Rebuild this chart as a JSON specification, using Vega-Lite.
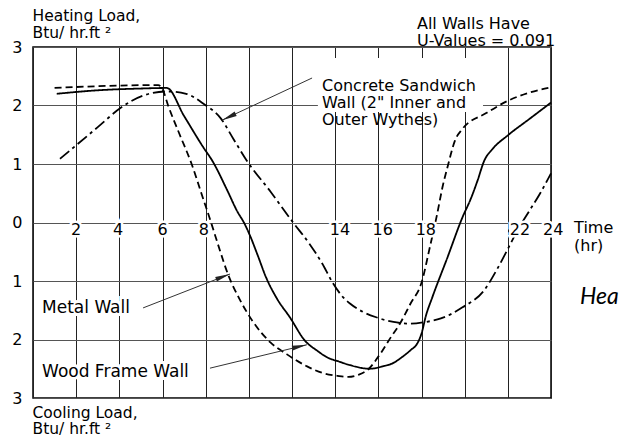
{
  "$schema": "https://vega.github.io/schema/vega-lite/v6.json",
  "width": 518,
  "height": 351,
  "autosize": {"type": "none"},
  "padding": {"left": 33, "top": 47, "right": 68, "bottom": 41},
  "background": "white",
  "config": {"view": {"stroke": "black", "strokeWidth": 1.5}, "font": "DejaVu Sans"},
  "data": {"values": [{}]},
  "datasets": {
    "curves": [
      {"wall": "Metal Wall", "hour": 1.0, "load": 2.30},
      {"wall": "Metal Wall", "hour": 3.0, "load": 2.33},
      {"wall": "Metal Wall", "hour": 5.8, "load": 2.35},
      {"wall": "Metal Wall", "hour": 6.0, "load": 2.28},
      {"wall": "Metal Wall", "hour": 6.26, "load": 2.0},
      {"wall": "Metal Wall", "hour": 6.8, "load": 1.5},
      {"wall": "Metal Wall", "hour": 7.35, "load": 1.0},
      {"wall": "Metal Wall", "hour": 7.8, "load": 0.5},
      {"wall": "Metal Wall", "hour": 8.25, "load": 0.0},
      {"wall": "Metal Wall", "hour": 8.55, "load": -0.35},
      {"wall": "Metal Wall", "hour": 9.05, "load": -0.9},
      {"wall": "Metal Wall", "hour": 9.6, "load": -1.33},
      {"wall": "Metal Wall", "hour": 10.2, "load": -1.7},
      {"wall": "Metal Wall", "hour": 11.0, "load": -2.05},
      {"wall": "Metal Wall", "hour": 11.75, "load": -2.25},
      {"wall": "Metal Wall", "hour": 12.7, "load": -2.46},
      {"wall": "Metal Wall", "hour": 13.4, "load": -2.57},
      {"wall": "Metal Wall", "hour": 14.1, "load": -2.62},
      {"wall": "Metal Wall", "hour": 14.6, "load": -2.64},
      {"wall": "Metal Wall", "hour": 15.1, "load": -2.6},
      {"wall": "Metal Wall", "hour": 15.5, "load": -2.52},
      {"wall": "Metal Wall", "hour": 16.1, "load": -2.24},
      {"wall": "Metal Wall", "hour": 16.6, "load": -1.95},
      {"wall": "Metal Wall", "hour": 17.0, "load": -1.73},
      {"wall": "Metal Wall", "hour": 17.5, "load": -1.38},
      {"wall": "Metal Wall", "hour": 18.0, "load": -1.03},
      {"wall": "Metal Wall", "hour": 18.4, "load": -0.4},
      {"wall": "Metal Wall", "hour": 18.7, "load": 0.1},
      {"wall": "Metal Wall", "hour": 19.0, "load": 0.65},
      {"wall": "Metal Wall", "hour": 19.2, "load": 0.94},
      {"wall": "Metal Wall", "hour": 19.55, "load": 1.4},
      {"wall": "Metal Wall", "hour": 19.9, "load": 1.6},
      {"wall": "Metal Wall", "hour": 21.0, "load": 1.87},
      {"wall": "Metal Wall", "hour": 22.0, "load": 2.08},
      {"wall": "Metal Wall", "hour": 23.0, "load": 2.22},
      {"wall": "Metal Wall", "hour": 24.0, "load": 2.31},
      {"wall": "Wood Frame Wall", "hour": 1.1, "load": 2.2},
      {"wall": "Wood Frame Wall", "hour": 3.0, "load": 2.26},
      {"wall": "Wood Frame Wall", "hour": 5.0, "load": 2.29},
      {"wall": "Wood Frame Wall", "hour": 6.2, "load": 2.3},
      {"wall": "Wood Frame Wall", "hour": 7.0, "load": 1.82},
      {"wall": "Wood Frame Wall", "hour": 7.9, "load": 1.28},
      {"wall": "Wood Frame Wall", "hour": 8.3, "load": 1.06},
      {"wall": "Wood Frame Wall", "hour": 9.0, "load": 0.55},
      {"wall": "Wood Frame Wall", "hour": 9.45, "load": 0.2},
      {"wall": "Wood Frame Wall", "hour": 9.8, "load": -0.02},
      {"wall": "Wood Frame Wall", "hour": 10.05, "load": -0.22},
      {"wall": "Wood Frame Wall", "hour": 10.4, "load": -0.55},
      {"wall": "Wood Frame Wall", "hour": 10.8, "load": -0.94},
      {"wall": "Wood Frame Wall", "hour": 11.3, "load": -1.3},
      {"wall": "Wood Frame Wall", "hour": 11.9, "load": -1.62},
      {"wall": "Wood Frame Wall", "hour": 12.6, "load": -2.02},
      {"wall": "Wood Frame Wall", "hour": 13.2, "load": -2.2},
      {"wall": "Wood Frame Wall", "hour": 13.6, "load": -2.3},
      {"wall": "Wood Frame Wall", "hour": 14.2, "load": -2.38},
      {"wall": "Wood Frame Wall", "hour": 14.7, "load": -2.44},
      {"wall": "Wood Frame Wall", "hour": 15.6, "load": -2.5},
      {"wall": "Wood Frame Wall", "hour": 16.2, "load": -2.46},
      {"wall": "Wood Frame Wall", "hour": 16.7, "load": -2.4},
      {"wall": "Wood Frame Wall", "hour": 17.1, "load": -2.3},
      {"wall": "Wood Frame Wall", "hour": 17.5, "load": -2.18},
      {"wall": "Wood Frame Wall", "hour": 17.8, "load": -2.07},
      {"wall": "Wood Frame Wall", "hour": 18.0, "load": -1.9},
      {"wall": "Wood Frame Wall", "hour": 18.2, "load": -1.6},
      {"wall": "Wood Frame Wall", "hour": 18.5, "load": -1.28},
      {"wall": "Wood Frame Wall", "hour": 19.2, "load": -0.6},
      {"wall": "Wood Frame Wall", "hour": 19.9, "load": 0.09},
      {"wall": "Wood Frame Wall", "hour": 20.3, "load": 0.42},
      {"wall": "Wood Frame Wall", "hour": 20.6, "load": 0.72},
      {"wall": "Wood Frame Wall", "hour": 20.9, "load": 1.05},
      {"wall": "Wood Frame Wall", "hour": 21.3, "load": 1.26},
      {"wall": "Wood Frame Wall", "hour": 22.0, "load": 1.49},
      {"wall": "Wood Frame Wall", "hour": 23.0, "load": 1.77},
      {"wall": "Wood Frame Wall", "hour": 24.0, "load": 2.05},
      {"wall": "Concrete Sandwich Wall", "hour": 1.25, "load": 1.09},
      {"wall": "Concrete Sandwich Wall", "hour": 2.0, "load": 1.32},
      {"wall": "Concrete Sandwich Wall", "hour": 3.0, "load": 1.63},
      {"wall": "Concrete Sandwich Wall", "hour": 4.1, "load": 1.97},
      {"wall": "Concrete Sandwich Wall", "hour": 5.1, "load": 2.17},
      {"wall": "Concrete Sandwich Wall", "hour": 6.2, "load": 2.24},
      {"wall": "Concrete Sandwich Wall", "hour": 7.1, "load": 2.2},
      {"wall": "Concrete Sandwich Wall", "hour": 7.9, "load": 2.03},
      {"wall": "Concrete Sandwich Wall", "hour": 8.7, "load": 1.78},
      {"wall": "Concrete Sandwich Wall", "hour": 9.3, "load": 1.42},
      {"wall": "Concrete Sandwich Wall", "hour": 9.9, "load": 1.06},
      {"wall": "Concrete Sandwich Wall", "hour": 11.0, "load": 0.53},
      {"wall": "Concrete Sandwich Wall", "hour": 12.05, "load": 0.0},
      {"wall": "Concrete Sandwich Wall", "hour": 12.8, "load": -0.36},
      {"wall": "Concrete Sandwich Wall", "hour": 13.4, "load": -0.7},
      {"wall": "Concrete Sandwich Wall", "hour": 13.9, "load": -1.04},
      {"wall": "Concrete Sandwich Wall", "hour": 14.3, "load": -1.25},
      {"wall": "Concrete Sandwich Wall", "hour": 14.7, "load": -1.39},
      {"wall": "Concrete Sandwich Wall", "hour": 15.3, "load": -1.53},
      {"wall": "Concrete Sandwich Wall", "hour": 15.9, "load": -1.62},
      {"wall": "Concrete Sandwich Wall", "hour": 16.7, "load": -1.7},
      {"wall": "Concrete Sandwich Wall", "hour": 17.5, "load": -1.73},
      {"wall": "Concrete Sandwich Wall", "hour": 18.2, "load": -1.7},
      {"wall": "Concrete Sandwich Wall", "hour": 18.9, "load": -1.64},
      {"wall": "Concrete Sandwich Wall", "hour": 19.9, "load": -1.45},
      {"wall": "Concrete Sandwich Wall", "hour": 20.9, "load": -1.16},
      {"wall": "Concrete Sandwich Wall", "hour": 21.5, "load": -0.8},
      {"wall": "Concrete Sandwich Wall", "hour": 21.96, "load": -0.48},
      {"wall": "Concrete Sandwich Wall", "hour": 22.5, "load": -0.1},
      {"wall": "Concrete Sandwich Wall", "hour": 23.0, "load": 0.2},
      {"wall": "Concrete Sandwich Wall", "hour": 23.5, "load": 0.5},
      {"wall": "Concrete Sandwich Wall", "hour": 24.0, "load": 0.84}
    ],
    "ticks": [
      {"at": 2.0, "label": "2"},
      {"at": 3.94, "label": "4"},
      {"at": 6.0, "label": "6"},
      {"at": 7.92, "label": "8"},
      {"at": 14.22, "label": "14"},
      {"at": 16.2, "label": "16"},
      {"at": 18.2, "label": "18"},
      {"at": 22.56, "label": "22"},
      {"at": 24.1, "label": "24"}
    ]
  },
  "layer": [
    {
      "mark": {"type": "rect", "fill": "white", "stroke": null},
      "encoding": {
        "x": {
          "datum": 13.2, "type": "quantitative",
          "scale": {"domain": [0, 24], "nice": false, "zero": false},
          "axis": {
            "values": [0, 2, 4, 6, 8, 10, 12, 14, 16, 18, 20, 22, 24],
            "grid": true, "gridColor": "#222", "gridWidth": 1,
            "labels": false, "ticks": false, "domain": false,
            "title": ["Cooling Load,", "Btu/ hr.ft ²"],
            "titleFont": "DejaVu Sans", "titleFontSize": 15.5, "titleFontWeight": "normal",
            "titleColor": "black", "titleAlign": "left", "titleAnchor": "start",
            "titleBaseline": "top", "titleX": -1, "titleY": 7, "titleLineHeight": 16.5
          }
        },
        "x2": {"datum": 20.85},
        "y": {
          "datum": 2.81, "type": "quantitative",
          "scale": {"domain": [-3, 3], "nice": false, "zero": false},
          "axis": {
            "values": [-3, -2, -1, 0, 1, 2, 3],
            "grid": true, "gridColor": "#555", "gridWidth": 1,
            "labelExpr": "'' + abs(datum.value)",
            "labelFont": "DejaVu Sans", "labelFontSize": 16, "labelColor": "black",
            "labelPadding": 11, "ticks": false, "tickSize": 0, "domain": false,
            "labelFlush": false, "labelBaseline": "middle",
            "title": ["Heating Load,", "Btu/ hr.ft ²"],
            "titleFont": "DejaVu Sans", "titleFontSize": 15.5, "titleFontWeight": "normal",
            "titleColor": "black", "titleAngle": 0, "titleAlign": "left",
            "titleBaseline": "top", "titleX": -1, "titleY": -39, "titleLineHeight": 17
          }
        },
        "y2": {"datum": 1.89}
      }
    },
    {
      "data": {"name": "curves"},
      "mark": {"type": "line", "strokeWidth": 1.8, "color": "black", "interpolate": "monotone"},
      "encoding": {
        "x": {"field": "hour", "type": "quantitative"},
        "y": {"field": "load", "type": "quantitative"},
        "detail": {"field": "wall", "type": "nominal"},
        "strokeDash": {
          "field": "wall", "type": "nominal",
          "scale": {"domain": ["Metal Wall", "Wood Frame Wall", "Concrete Sandwich Wall"], "range": [[7, 4], [1, 0], [12, 4, 3, 4]]},
          "legend": null
        }
      }
    },
    {
      "mark": {"type": "rule", "color": "#333", "strokeWidth": 1},
      "encoding": {
        "x": {"datum": 12.93, "type": "quantitative"}, "x2": {"datum": 8.76},
        "y": {"datum": 2.47, "type": "quantitative"}, "y2": {"datum": 1.75}
      }
    },
    {
      "mark": {"type": "rule", "color": "#333", "strokeWidth": 1},
      "encoding": {
        "x": {"datum": 5.1, "type": "quantitative"}, "x2": {"datum": 9.13},
        "y": {"datum": -1.46, "type": "quantitative"}, "y2": {"datum": -0.88}
      }
    },
    {
      "mark": {"type": "rule", "color": "#333", "strokeWidth": 1},
      "encoding": {
        "x": {"datum": 8.2, "type": "quantitative"}, "x2": {"datum": 12.69},
        "y": {"datum": -2.49, "type": "quantitative"}, "y2": {"datum": -2.09}
      }
    },
    {
      "mark": {"type": "point", "shape": "M0,0L-2,-0.32L-2,0.32Z", "size": 225, "angle": 155, "filled": true, "color": "#222", "opacity": 1, "strokeWidth": 0},
      "encoding": {
        "x": {"datum": 8.76, "type": "quantitative"},
        "y": {"datum": 1.75, "type": "quantitative"}
      }
    },
    {
      "mark": {"type": "point", "shape": "M0,0L-2,-0.32L-2,0.32Z", "size": 225, "angle": -21, "filled": true, "color": "#222", "opacity": 1, "strokeWidth": 0},
      "encoding": {
        "x": {"datum": 9.13, "type": "quantitative"},
        "y": {"datum": -0.88, "type": "quantitative"}
      }
    },
    {
      "mark": {"type": "point", "shape": "M0,0L-2,-0.32L-2,0.32Z", "size": 225, "angle": -13, "filled": true, "color": "#222", "opacity": 1, "strokeWidth": 0},
      "encoding": {
        "x": {"datum": 12.69, "type": "quantitative"},
        "y": {"datum": -2.09, "type": "quantitative"}
      }
    },
    {
      "data": {"name": "ticks"},
      "mark": {"type": "text", "fontSize": 16, "font": "DejaVu Sans", "align": "center", "baseline": "middle", "fill": "white", "stroke": "white", "strokeWidth": 5},
      "encoding": {
        "x": {"field": "at", "type": "quantitative"},
        "y": {"datum": -0.13, "type": "quantitative"},
        "text": {"field": "label"}
      }
    },
    {
      "data": {"name": "ticks"},
      "mark": {"type": "text", "fontSize": 16, "font": "DejaVu Sans", "align": "center", "baseline": "middle", "color": "black"},
      "encoding": {
        "x": {"field": "at", "type": "quantitative"},
        "y": {"datum": -0.13, "type": "quantitative"},
        "text": {"field": "label"}
      }
    },
    {
      "mark": {"type": "text", "text": "Metal Wall", "fontSize": 17, "font": "DejaVu Sans", "align": "left", "baseline": "middle", "fill": "white", "stroke": "white", "strokeWidth": 6},
      "encoding": {
        "x": {"datum": 0.42, "type": "quantitative"},
        "y": {"datum": -1.46, "type": "quantitative"}
      }
    },
    {
      "mark": {"type": "text", "text": "Metal Wall", "fontSize": 17, "font": "DejaVu Sans", "align": "left", "baseline": "middle", "color": "black"},
      "encoding": {
        "x": {"datum": 0.42, "type": "quantitative"},
        "y": {"datum": -1.46, "type": "quantitative"}
      }
    },
    {
      "mark": {"type": "text", "text": "Wood Frame Wall", "fontSize": 17, "font": "DejaVu Sans", "align": "left", "baseline": "middle", "fill": "white", "stroke": "white", "strokeWidth": 6},
      "encoding": {
        "x": {"datum": 0.42, "type": "quantitative"},
        "y": {"datum": -2.55, "type": "quantitative"}
      }
    },
    {
      "mark": {"type": "text", "text": "Wood Frame Wall", "fontSize": 17, "font": "DejaVu Sans", "align": "left", "baseline": "middle", "color": "black"},
      "encoding": {
        "x": {"datum": 0.42, "type": "quantitative"},
        "y": {"datum": -2.55, "type": "quantitative"}
      }
    },
    {
      "mark": {"type": "text", "text": ["Concrete Sandwich", "Wall (2\" Inner and", "Outer Wythes)"], "fontSize": 16, "font": "DejaVu Sans", "align": "left", "baseline": "middle", "lineHeight": 17, "color": "black"},
      "encoding": {
        "x": {"datum": 13.39, "type": "quantitative"},
        "y": {"datum": 2.33, "type": "quantitative"}
      }
    },
    {
      "mark": {"type": "text", "text": ["All Walls Have", "U-Values = 0.091"], "fontSize": 16, "font": "DejaVu Sans", "align": "left", "baseline": "middle", "lineHeight": 17, "color": "black"},
      "encoding": {
        "x": {"datum": 17.79, "type": "quantitative"},
        "y": {"datum": 3.40, "type": "quantitative"}
      }
    },
    {
      "mark": {"type": "text", "text": ["Time", "(hr)"], "fontSize": 16, "font": "DejaVu Sans", "align": "left", "baseline": "middle", "lineHeight": 18, "color": "black"},
      "encoding": {
        "x": {"datum": 25.07, "type": "quantitative"},
        "y": {"datum": -0.10, "type": "quantitative"}
      }
    },
    {
      "mark": {"type": "text", "text": "Hea", "fontSize": 23, "font": "Lato", "fontStyle": "italic", "align": "left", "baseline": "middle", "color": "black"},
      "encoding": {
        "x": {"datum": 25.34, "type": "quantitative"},
        "y": {"datum": -1.27, "type": "quantitative"}
      }
    }
  ]
}
